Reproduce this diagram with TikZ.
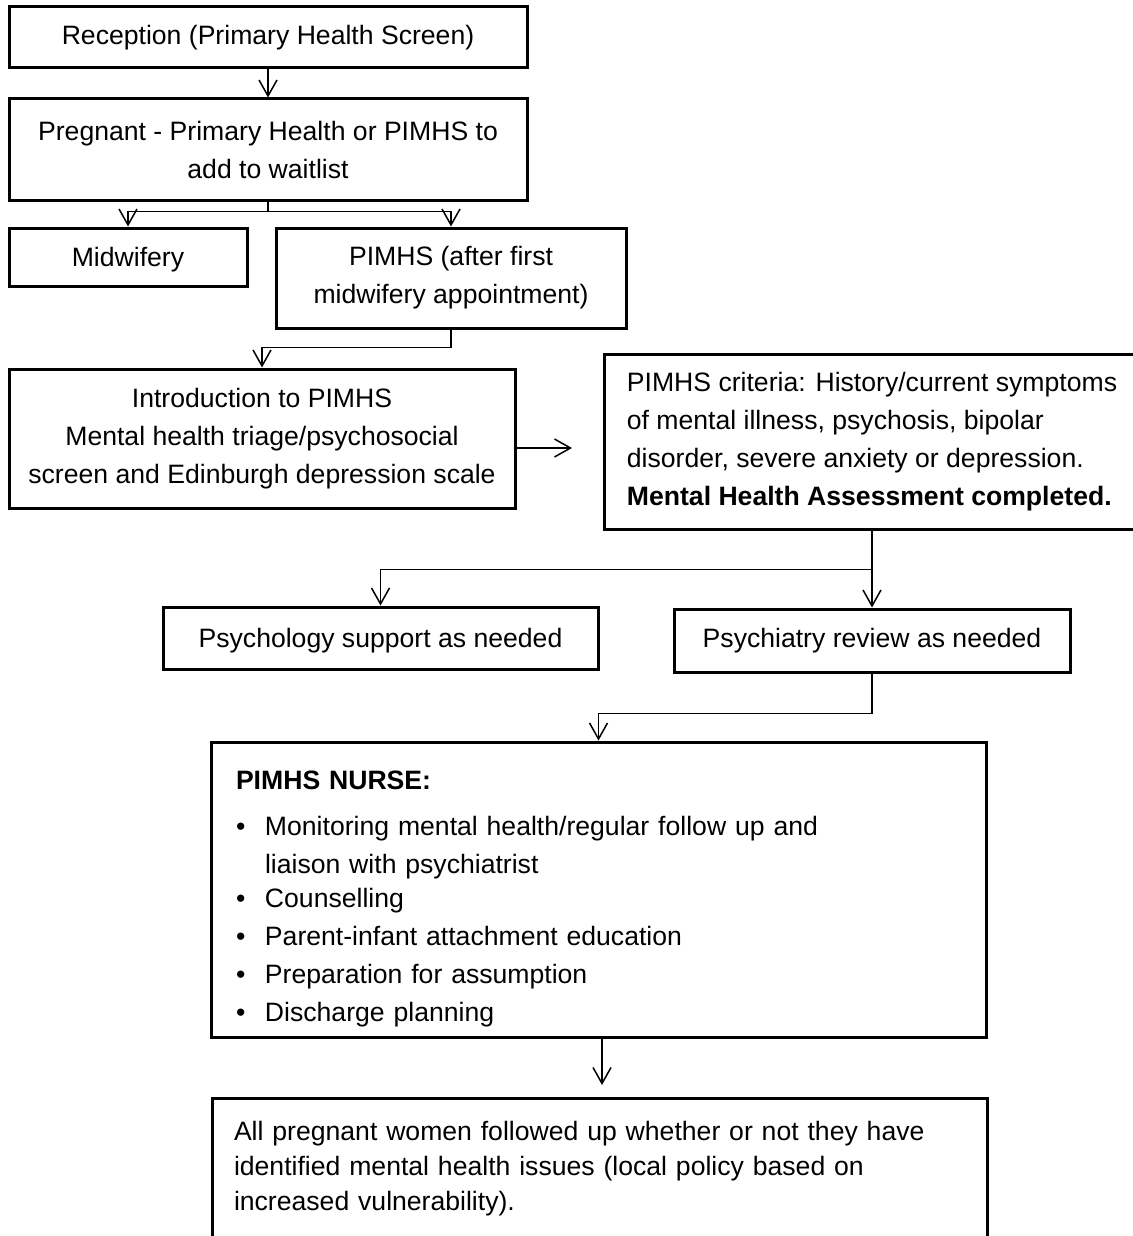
\documentclass[tikz,border=0pt]{standalone}
\usepackage{fontspec}
\setmainfont{Liberation Sans}
\usetikzlibrary{arrows.meta}
\newcommand{\punto}{\makebox[29pt][l]{\textbullet}}
\begin{document}
\begin{tikzpicture}[x=1pt,y=-1pt,
    font=\fontsize{26.6}{38}\selectfont,
    caja/.style 2 args={draw,line width=3pt,inner sep=0pt,align=center,
        minimum width=#1,minimum height=#2},
    flecha/.style={line width=1.5pt,-{Straight Barb[length=16pt,width=18pt]}}]
    \useasboundingbox (0,0) rectangle (1132,1236);

    % Cajas superiores
    \node[caja={518pt}{61pt}] (rec) at (268,37.5) {Reception (Primary Health Screen)};
    \node[caja={518pt}{101pt}] (preg) at (268,149.5)
        {Pregnant - Primary Health or PIMHS to\\add to waitlist};
    \node[caja={238pt}{58pt},text depth=0pt] (midw) at (128,257) {Midwifery};
    \node[caja={350pt}{100pt}] (pafter) at (451,278)
        {PIMHS (after first\\midwifery appointment)};

    % Triaje y criterios
    \node[caja={506pt}{139pt}] (intro) at (262,438.5)
        {Introduction to PIMHS\\Mental health triage/psychosocial\\screen and Edinburgh depression scale};
    \node[caja={536pt}{175pt},align=left] (crit) at (872,441.5)
        {PIMHS criteria: History/current symptoms\\of mental illness, psychosis, bipolar\\
         disorder, severe anxiety or depression.\\\textbf{Mental Health Assessment completed.}};
    \node[caja={435pt}{62pt},text depth=0pt] (psycho) at (380.5,638) {Psychology support as needed};
    \node[caja={396pt}{63pt}] (psychi) at (872,640.5) {Psychiatry review as needed};

    % Enfermera PIMHS
    \node[caja={775pt}{295pt},align=left,text width=725pt] (nurse) at (598.5,889.5)
        {\rule{0pt}{37pt}\textbf{PIMHS NURSE:}\\[8pt]
         \punto Monitoring mental health/regular follow up and\\
         \hspace*{29pt}liaison with psychiatrist\\[-4pt]
         \punto Counselling\\
         \punto Parent-infant attachment education\\
         \punto Preparation for assumption\\
         \punto Discharge planning};

    % Caja final
    \node[caja={775pt}{142pt},align=left,text width=731pt,
        font=\fontsize{26.6}{35}\selectfont] (fin) at (599.5,1169)
        {All pregnant women followed up whether or not they have\\
         identified mental health issues (local policy based on\\
         increased vulnerability).};

    % Conectores
    \coordinate (entcrit) at (572,448);
    \coordinate (entfin) at (602,1085);
    \draw[flecha] (rec) -- (preg);
    \draw[flecha] (preg.south) -- ++(0,10) -| (midw.north);
    \draw[flecha] (preg.south) -- ++(0,10) -| (pafter.north);
    \draw[flecha] (pafter.south) -- ++(0,18) -| (intro.north);
    \draw[flecha] (intro.east |- entcrit) -- (entcrit);
    \draw[flecha] (crit.south) -- (psychi.north);
    \draw[flecha] (crit.south) -- ++(0,39) -| (psycho.north);
    \draw[flecha] (psychi.south) -- ++(0,40) -| (nurse.north);
    \draw[flecha] (nurse.south -| entfin) -- (entfin);
\end{tikzpicture}
\end{document}
